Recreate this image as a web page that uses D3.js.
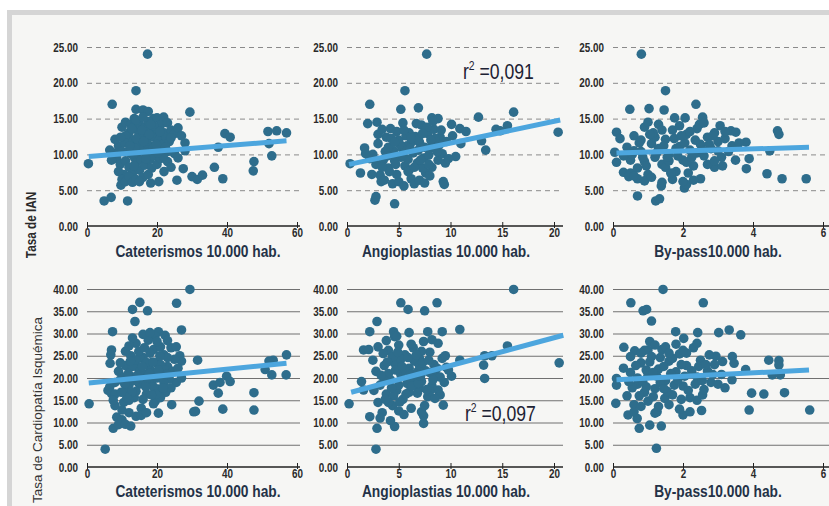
<!DOCTYPE html>
<html>
<head>
<meta charset="UTF-8">
<title>Tasa de IAN / Cardiopatía Isquémica vs procedimientos</title>
<style>
	body { margin: 0; background: #fff; }
	svg { display: block; }
	.tick-label { font-family: "Liberation Sans", Arial, sans-serif; font-weight: bold; font-size: 13px; fill: #2a2a2a; }
	.x-title { font-family: "Liberation Sans", Arial, sans-serif; font-weight: bold; font-size: 17px; fill: #243247; }
	.r2 { font-family: "Liberation Sans", Arial, sans-serif; font-size: 22px; fill: #1d2233; }
</style>
</head>
<body>
<script src="https://cdn.jsdelivr.net/npm/d3@7/dist/d3.min.js"></script>
<script>

// ---- data ----

let xTitles = ["Cateterismos 10.000 hab.", "Angioplastias 10.000 hab.", "By-pass10.000 hab."];
let yTitles = ["Tasa de IAN", "Tasa de Cardiopatía Isquémica"];

let xTicksCat = [0, 20, 40, 60];
let xTicksAngio = [0, 5, 10, 15, 20];
let xTicksBypass = [0, 2, 4, 6];
let yTicksIAM = [0, 5, 10, 15, 20, 25];
let yTicksCardio = [0, 5, 10, 15, 20, 25, 30, 35, 40];

let r2Labels = ["0,091", "0,097"];

// top row: tasa de IAN
let catIAM = [
	[17.3,24],[14,18.9],[7.2,17],[14,16.3],[16,16.2],[17.5,16],[29.4,15.9],[19,15],[20,15.1],[21.9,15.2],
	[0.4,8.7],[4.9,3.5],[6.9,4],[11.6,3.5],[9.7,5.7],
	[54.2,13.3],[57,13],[51.7,13.2],[52.8,9.8],[52,11.5],[47.7,9],[47.5,7.7],
	[39.4,12.9],[40.9,12.4],[37.5,11],[36.4,8.2],[38.8,6.6],
	[30,6.9],[31.5,6.5],[33,7.1],[28,10.5],[28,11.6],[27.5,8],[25.7,6.4],[18.2,6],[20.5,6.2],
	[10,13.8],[11,14.5],[12,13],[12.5,14.2],[13,12],[13.5,15],[14,13.5],[14.5,11.5],[15,14.2],[15.5,12.8],
	[16,10.8],[16.5,13.8],[17,12.2],[17.5,14.6],[18,11.2],[18.5,13.1],[19,12.4],[19.5,10.4],[20,13.6],[20.5,12],
	[21,14.1],[21.5,11.4],[22,13],[22.5,12.5],[23,14.4],[23.5,11.8],[24,13.4],[25,12.9],[26,13.7],[27,12.6],
	[8,10.2],[8.5,9.4],[9,11.2],[9.5,8.6],[10,10.4],[10.5,7.2],[11,9.1],[11.5,11.8],[12,8.2],[12.5,10.1],
	[13,7.4],[13.5,9.6],[14,8.8],[14.5,10.2],[15,7.8],[15.5,9.2],[16,6.8],[16.5,8.5],[17,10],[17.5,7.2],
	[18,9.3],[18.5,8.1],[19,9.8],[20,8.6],[21,9.4],[22,7.6],[23,9],[24,8.2],[25,10.1],[26,9.5],
	[9,7.6],[10,6.5],[11,6.2],[12,6.9],[13,6.1],[14,6.5],[15,6.2],[7,9.2],[6.5,10.6],[8,12.1],
	[11,12.6],[13,11],[15,11.2],[17,11.6],[19,14],[21,10.6],[23,10.4],[24,12.3],[14,14.8],[16,15.2],
	[10.8,11.6],[11.8,10.4],[12.8,13.6],[13.8,10.8],[14.8,12.6],[15.8,13.4],[16.8,9.4],[17.8,12.8],[18.8,10.8],[19.8,11.4],
	[20.8,13.2],[21.8,9.8],[12.2,11.2],[14.2,12.2],[16.2,11.8],[18.2,14.2],[20.2,10.2],[22.4,11],[9.6,12.4],[13.4,8.4]
];

let angioIAM = [
	[7.7,24],[5.6,18.9],[2.2,17],[6.9,16.5],[5.2,16.3],[16.1,15.9],[12.7,15.2],[8.2,15.1],[8.8,15],[10.1,14.2],
	[10.9,13.6],[15.5,14],[14.4,13.5],[14.8,13.3],[13,11.9],[13.4,10.6],[20.4,13.1],[0.3,8.7],[2,14.3],[2.9,14.5],
	[1.7,10.9],[2.7,3.6],[2.8,4.1],[4.6,3.1],[9.3,6.2],[9.4,5.8],[1.3,7.4],[3.3,6.2],
	[3,11.5],[3.5,9.2],[3.8,12.4],[4,8.1],[4.2,13.6],[4.5,10.5],[4.8,7.2],[5,12],[5.2,9.6],[5.4,14.4],
	[5.6,8.4],[5.8,11.2],[6,13],[6.2,6.6],[6.4,10.2],[6.6,12.5],[6.8,8.8],[7,11.7],[7.2,14.1],[7.4,9.5],
	[7.6,7.4],[7.8,12.9],[8,10.8],[8.2,8.2],[8.4,13.5],[8.6,11.1],[8.8,9.2],[9,12.4],[9.2,10.1],[9.5,8.8],
	[3.2,7.1],[3.6,6.4],[4.4,5.9],[5,6.2],[5.5,5.6],[6,7.8],[6.5,5.9],[7,6.4],[7.5,6],[8,7],
	[2.5,10],[2.8,8.6],[3,12.8],[3.4,13.5],[4,11],[4.6,9.1],[5.3,10.9],[5.9,9.3],[6.3,11.8],[6.9,10.6],
	[7.3,8.1],[7.9,9.9],[8.5,12.2],[9.1,13.4],[9.6,11.8],[10.2,12.6],[10.5,9.7],[9.8,9.4],[11.5,13.2],[11,11.5],
	[4.8,13.2],[5.7,12.6],[6.7,14.3],[7.7,13.8],[8.3,14.6],[4.1,7.6],[3.7,10.4],[2.2,9.4],[1.8,10.1],[2.4,7.2],
	[3.9,9.8],[4.3,12.2],[4.7,8.6],[5.1,11.4],[5.5,13.4],[5.9,7.6],[6.1,10.8],[6.5,8.2],[6.9,12],[7.1,9.2],
	[7.5,11],[7.9,8.6],[8.1,12],[8.7,10.4],[6.2,12.2],[5.4,9.9],[4.6,11.7],[7.3,12.9],[8.9,11.3],[3.4,8.2]
];

let bypassIAM = [
	[0.81,24],[1.5,18.9],[0.48,16.3],[1.03,16.4],[1.46,16.2],[2.37,17],[1.76,15.1],[2.06,15.1],[2.56,15.2],[2.47,14.2],
	[3.06,14],[3.37,13.3],[3.51,13.1],[3.8,11.7],[4.7,13.3],[4.74,12.8],[4.48,10.5],[3.89,9.4],[3.81,8],[4.4,7.3],
	[4.83,6.6],[5.52,6.6],[0.7,4.2],[1.22,3.5],[1.33,3.8],[2.5,6.6],[2.9,8.2],[3.13,8.4],[0.1,13.1],[0.2,12.2],
	[0.05,10.3],[0.1,8.9],[0.3,7.5],[0.5,7.4],[0.7,6.6],[0.45,6.9],[2.04,5.3],[2.1,5.8],[1.38,5.6],
	[0.4,11],[0.5,9.2],[0.6,12.6],[0.7,8.1],[0.8,10.4],[0.9,13.8],[1,7.2],[1.1,11.5],[1.2,9.6],[1.3,14.2],
	[1.4,8.6],[1.5,12.1],[1.6,10],[1.7,13.4],[1.8,7.6],[1.9,11.1],[2,9.2],[2.1,12.8],[2.2,10.6],[2.3,8.4],
	[2.4,13.6],[2.5,11.4],[2.6,9.8],[2.7,12.4],[2.8,10.8],[2.9,13],[3,11.8],[3.1,9.6],[3.2,12.2],[3.3,10.4],
	[3.4,11.2],[3.5,9.2],[3.6,11.6],[0.6,7],[0.9,6.3],[1.1,6.8],[1.4,6.1],[1.7,6.5],[2,6.2],[2.3,6.4],
	[0.3,9.8],[0.6,10.5],[0.9,9],[1.2,12.4],[1.5,8.2],[1.8,10.8],[2.1,8.9],[2.4,10.2],[2.7,8.6],[3,10.5],
	[1,14.5],[1.4,13.4],[1.9,14],[2.2,13.2],[2.6,14.4],[3.2,13.2],[0.8,12],[1.3,10.8],[1.6,9.1],[2.9,9.1],
	[0.55,10],[0.75,11.6],[0.95,8.4],[1.15,13],[1.25,10.2],[1.45,11.2],[1.55,9.6],[1.75,12.2],[1.85,9.8],[2.05,11.6],
	[2.25,9.6],[2.35,12],[2.55,10.6],[2.75,11.4],[2.85,12.6],[1.05,12.8],[0.85,9.6],[1.65,7.4],[2.15,7.4],[1.95,12.6]
];

// bottom row: tasa de cardiopatía isquémica
let catCardio = [
	[29.4,39.9],[15.1,37],[25.6,36.8],[13,35.4],[17.3,35.1],[13.7,32.7],[7.3,30.4],[20.4,30.4],[19.4,29.4],[22.3,29.6],
	[27,30.8],[31.6,24],[7,26.3],[6.8,25.2],[6.6,23.3],[36.1,18.4],[38,19],[39.9,20.4],[40.9,19.2],[37.5,16.6],
	[38.8,13],[47.7,16.7],[47.7,12.8],[50.9,21.9],[53.2,24],[57,25.2],[52,23.8],[52.8,20.7],[56.9,20.7],[0.6,14.2],
	[5.2,4],[7.5,8.7],[30.5,12.4],[31,12.5],[32,14.8],[24.2,14],[20.4,12.1],[25.5,19],[27,20],[26.5,25],[27,23.8],
	[6,17.2],[6.5,18],[7,16.5],[8,13.8],[8.5,11.2],[9,21.5],[9.5,19.6],[10,10.6],[10.5,14.5],[11,22.8],
	[11.5,17.6],[12,12.2],[12.5,25],[13,20.2],[13.5,15.6],[14,27.8],[14.5,22.4],[15,18.6],[15.5,13.2],[16,24.6],
	[16.5,20.8],[17,16.4],[17.5,28.5],[18,22],[18.5,19.2],[19,26.4],[19.5,14.8],[20,23.4],[20.5,17.5],[21,27],
	[21.5,20.5],[22,25.2],[22.5,16.8],[23,22.6],[23.5,19.8],[24,26.8],[24.5,21.5],[25,24.2],[25.5,27],[26,22.2],
	[9,9.5],[11,9.6],[12.5,9.2],[14,11.4],[15.5,11.6],[17,12.2],[19,14.2],[10,12.8],[12,15],[8,19],
	[9.5,23.4],[10.5,20.2],[12,18.4],[13,22.6],[14,17],[15,21.4],[16,15.2],[17,19.8],[18,25.6],[19,18],
	[20,20],[21,15.6],[22,19],[23,28.4],[24,17.8],[13,29],[15,24.6],[16,29.8],[18,30.2],[20,28.2],
	[11,26],[12,27.2],[14,24],[17,23.5],[19,21.2],[21,23],[22,21.8],[23,24.6],[8,16.4],[7.5,15],
	[10.8,18.6],[11.8,21],[12.8,16.8],[13.8,19.4],[14.8,26],[15.8,22.6],[16.8,18],[17.8,21],[18.8,23.6],[19.8,16.4],
	[20.8,25],[21.8,17.8],[22.8,20.8],[12.4,23.8],[14.4,20.6],[16.4,26.8],[18.4,16.2],[20.4,21.8],[11.4,15.6],[9.8,16.8]
];

let angioCardio = [
	[16.1,39.9],[5.2,36.9],[8.7,36.9],[5.9,35.4],[7.5,35.1],[2.9,32.7],[10.9,30.9],[2.2,30.4],[4.5,30.4],[4.6,29.3],
	[9.2,30.4],[15.5,27.2],[14,25],[13.3,25],[13.2,22.9],[13.3,19.9],[10.9,24],[10.1,20.4],[9.8,21.8],[20.5,23.4],
	[0.2,14.2],[2.8,4],[2.9,8.7],[2.2,11.3],[4.6,9.1],[7.4,9.8],[7.4,11.5],[7.2,12.4],[9.3,13.9],[8.8,17.3],
	[1.6,26.3],[2.1,26.4],[1.4,19.2],[1.6,17.3],
	[2.5,24],[2.8,21.5],[3,14.5],[3.2,18.4],[3.4,12.2],[3.6,22.8],[3.8,16.4],[4,26.2],[4.2,19.6],[4.4,13.8],
	[4.6,23.4],[4.8,17.2],[5,27.4],[5.2,20.8],[5.4,15.2],[5.6,25.2],[5.8,18.8],[6,22.2],[6.2,13.2],[6.4,26.8],
	[6.6,20],[6.8,16.6],[7,24.4],[7.2,19.2],[7.4,28.2],[7.6,21.6],[7.8,15.8],[8,25.8],[8.2,18.2],[8.4,23],
	[8.6,20.6],[8.8,27.8],[9,16.2],[9.2,24.4],[9.4,19],[9.6,22.4],[3,27],[3.5,25.5],[4,21],[4.5,16],
	[5,12.6],[5.5,11.8],[6,16.8],[6.5,23.8],[7,17.6],[7.5,13.8],[8,21.2],[8.5,15.4],[3.2,11],[4.2,10.4],
	[5.2,24.2],[6.2,27.6],[7.2,26],[8.2,28.6],[4.8,29.4],[6,30.2],[3.6,19.5],[2.6,17.2],[5.6,21.8],[6.8,21.4],
	[4,14.5],[5,18.4],[6,19.6],[7,22.8],[8,17],[9,20.2],[9.5,25],[4.4,24.8],[3.8,28.4],[7.8,30.4],
	[3.3,20.6],[3.9,23.6],[4.3,17.8],[4.7,21.8],[5.1,14.6],[5.3,22.6],[5.7,16.4],[5.9,24.6],[6.3,18.2],[6.7,25.2],
	[6.9,18.8],[7.3,23.4],[7.7,17.4],[7.9,24],[8.3,19.6],[8.7,22.2],[4.9,25.8],[6.1,20.8],[7.1,20.4],[3.7,15.2]
];

let bypassCardio = [
	[1.43,39.9],[0.51,36.9],[2.58,36.9],[0.86,35.1],[0.96,35.4],[1.1,32.8],[1.79,30.4],[2.42,30.2],[2.02,28.9],[3.02,30.2],
	[3.32,30.8],[3.65,29.7],[0.31,26.9],[0.62,26.1],[1,26.3],[1.05,28.2],[2.94,24.9],[3.13,23.7],[3.41,24.8],[3.46,23.3],
	[4.45,24],[4.74,23.9],[4.74,22.9],[3.79,21.9],[4.55,20.7],[4.78,20.7],[3.96,16.6],[4.31,16.4],[4.9,16.7],[3.89,12.8],
	[5.62,12.8],[0.1,19.9],[0.1,18.4],[0.08,14.3],[0.43,11.7],[0.69,10.9],[0.75,8.7],[1.05,9.4],[1.38,9.2],[1.24,4.2],
	[1.2,12.1],[1.26,12.4],[2,11.7],[2.53,12.7],[2.4,15],[2.56,16.2],[1.48,15.4],
	[0.4,16],[0.5,21.2],[0.6,14],[0.7,18.6],[0.8,23.4],[0.9,16.8],[1,20.6],[1.1,24.8],[1.2,17.6],[1.3,22],
	[1.4,26.4],[1.5,19.4],[1.6,23.8],[1.7,16.2],[1.8,21.4],[1.9,25.4],[2,18.2],[2.1,22.8],[2.2,15.6],[2.3,26.8],
	[2.4,20.2],[2.5,24],[2.6,17.4],[2.7,21.6],[2.8,19],[2.9,23],[3,18.6],[3.1,20.8],[3.2,17.8],[3.4,19.6],
	[0.6,12.4],[0.8,13.6],[1,14.8],[1.3,13.6],[1.6,14],[1.9,13],[2.2,12.4],[0.3,22.2],[0.5,24.8],[0.7,20],
	[0.9,26.2],[1.2,27.4],[1.5,27],[1.8,27.6],[2.1,25.6],[2.4,27.8],[0.95,21.8],[1.35,19],[1.75,18.4],[2.05,20.4],
	[2.45,22.6],[2.75,25.2],[1.15,15.8],[1.55,17],[1.95,15.2],[2.35,18.6],[0.55,17.8],[0.85,19.2],[1.45,22.6],[1.7,24.4],
	[0.45,19.2],[0.65,22.8],[0.75,16],[0.95,18],[1.05,23.6],[1.25,20.4],[1.35,24.6],[1.45,17.6],[1.65,21],[1.85,19.6],
	[1.95,23],[2.15,17.2],[2.25,21.6],[2.55,19.4],[2.65,23],[2.85,20.8],[1.15,21.2],[1.6,25.6],[2,26.2],[0.8,25.6]
];

// regression lines, [start, end] in data units
let trendCatIAM = [[0.5, 9.7], [57, 11.9]];
let trendAngioIAM = [[0.2, 8.6], [20.6, 14.8]];
let trendBypassIAM = [[0.1, 10.2], [5.6, 11.0]];
let trendCatCardio = [[0.5, 18.9], [57, 23.3]];
let trendAngioCardio = [[0.4, 16.8], [20.9, 29.6]];
let trendBypassCardio = [[0.1, 19.6], [5.6, 21.8]];

// ---- layout ----

const W = 829, H = 506;
const narrow = 0.76; // horizontal squeeze, the scan uses a narrow bold face

const cols = [
	{ x0: 87, x1: 297, gridEnd: 300, domain: [0, 60], ticks: xTicksCat, titleX: 198 },
	{ x0: 347, x1: 554, gridEnd: 563, domain: [0, 20], ticks: xTicksAngio, titleX: 446 },
	{ x0: 613, x1: 823, gridEnd: 829, domain: [0, 6], ticks: xTicksBypass, titleX: 718 }
];

const rows = [
	{ y0: 226, y1: 47, domain: [0, 25], ticks: yTicksIAM, dashed: true, titleY: 257,
	  points: [catIAM, angioIAM, bypassIAM], trends: [trendCatIAM, trendAngioIAM, trendBypassIAM] },
	{ y0: 467, y1: 289, domain: [0, 40], ticks: yTicksCardio, dashed: false, titleY: 497,
	  points: [catCardio, angioCardio, bypassCardio], trends: [trendCatCardio, trendAngioCardio, trendBypassCardio] }
];

const dotColor = "#2e6d8c";
const lineColor = "#4da6de";

let svg = d3.select("body").append("svg")
	.attr("width", W)
	.attr("height", H);

// frame + paper
svg.append("rect").attr("width", W).attr("height", H).attr("fill", "#ffffff");
svg.append("rect").attr("x", 7).attr("y", 10).attr("width", W - 7).attr("height", H - 10).attr("fill", "#d5d5d5");
svg.append("rect").attr("x", 12).attr("y", 15).attr("width", W - 12).attr("height", H - 15).attr("fill", "#f6f6f4");

rows.forEach((row, ri) => {
	let y = d3.scaleLinear().domain(row.domain).range([row.y0, row.y1]);

	cols.forEach((col, ci) => {
		let x = d3.scaleLinear().domain(col.domain).range([col.x0, col.x1]);
		let g = svg.append("g").attr("class", "panel");

		// y axis: grid lines + labels
		let yAxis = g.append("g")
			.attr("transform", "translate(" + col.x0 + ",0)")
			.call(d3.axisLeft(y)
				.tickValues(row.ticks)
				.tickFormat(d3.format(".2f"))
				.tickSize(-(col.gridEnd - col.x0))
				.tickPadding(12));
		yAxis.select(".domain").remove();
		yAxis.selectAll(".tick line")
			.attr("stroke", row.dashed ? "#8a8a8a" : "#707070")
			.attr("stroke-width", row.dashed ? 1 : 1.2)
			.attr("stroke-dasharray", row.dashed ? "5,4" : null)
			.attr("display", d => d === 0 ? "none" : null);
		yAxis.selectAll(".tick text")
			.attr("class", "tick-label")
			.attr("fill", null)
			.attr("transform", "scale(" + narrow + ",1)");

		// x axis
		let xAxis = g.append("g")
			.attr("transform", "translate(0," + row.y0 + ")")
			.call(d3.axisBottom(x)
				.tickValues(col.ticks)
				.tickFormat(d3.format("d"))
				.tickSizeOuter(0)
				.tickSize(2)
				.tickPadding(0));
		xAxis.select(".domain")
			.attr("d", "M" + col.x0 + ",0H" + col.gridEnd)
			.attr("stroke", "#222")
			.attr("stroke-width", 1.5);
		xAxis.selectAll(".tick line").attr("y1", -4).attr("stroke", "#222");
		xAxis.selectAll(".tick text")
			.attr("class", "tick-label")
			.attr("fill", null)
			.attr("transform", "scale(" + narrow + ",1)");

		// points
		g.append("g")
			.selectAll("circle")
			.data(row.points[ci])
			.enter()
			.append("circle")
			.attr("cx", d => x(d[0]))
			.attr("cy", d => y(d[1]))
			.attr("r", 4.8)
			.attr("fill", dotColor);

		// regression line
		g.append("line")
			.attr("x1", x(row.trends[ci][0][0]))
			.attr("y1", y(row.trends[ci][0][1]))
			.attr("x2", x(row.trends[ci][1][0]))
			.attr("y2", y(row.trends[ci][1][1]))
			.attr("stroke", lineColor)
			.attr("stroke-width", 5);

		// x title
		g.append("text")
			.attr("class", "x-title")
			.attr("transform", "translate(" + col.titleX + "," + row.titleY + ") scale(0.81,1)")
			.attr("text-anchor", "middle")
			.text(xTitles[ci]);
	});
});

// y titles
svg.append("text")
	.attr("transform", "translate(36,225) rotate(-90) scale(0.84,1)")
	.attr("text-anchor", "middle")
	.style("font-family", "'Liberation Sans', Arial, sans-serif")
	.style("font-weight", "bold")
	.style("font-size", "14px")
	.style("fill", "#2a2a2a")
	.text(yTitles[0]);

svg.append("text")
	.attr("transform", "translate(42,410) rotate(-90)")
	.attr("text-anchor", "middle")
	.style("font-family", "'Liberation Sans', Arial, sans-serif")
	.style("font-size", "13.5px")
	.style("fill", "#333")
	.text(yTitles[1]);

// r² labels
function r2(xPos, yPos, val) {
	let t = svg.append("text")
		.attr("class", "r2")
		.attr("transform", "translate(" + xPos + "," + yPos + ") scale(0.8,1)");
	t.append("tspan").text("r");
	t.append("tspan").attr("dy", -9).style("font-size", "13px").text("2");
	t.append("tspan").attr("dy", 9).text(" =" + val);
}
r2(463, 79, r2Labels[0]);
r2(465, 421, r2Labels[1]);

</script>
</body>
</html>
